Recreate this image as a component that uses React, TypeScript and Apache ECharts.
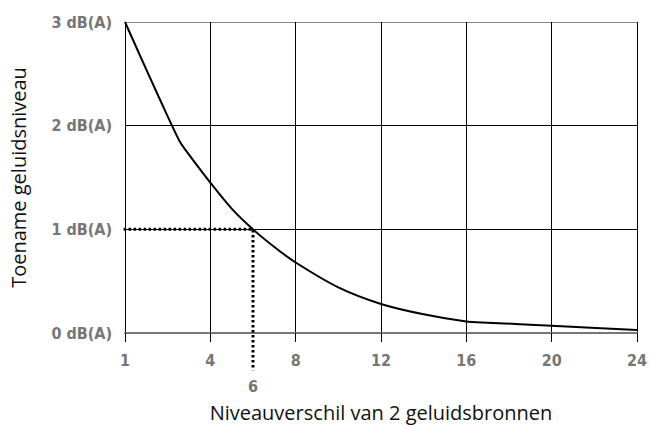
import React, { useEffect, useRef } from "react";
import * as echarts from "echarts";

const levelDiff = [0, 1, 2, 2.56, 3, 4, 5, 6, 7, 8, 10, 12, 14, 16, 17, 20, 24];
const increase = [3.0, 2.54, 2.09, 1.85, 1.72, 1.45, 1.2, 1.0, 0.83, 0.68, 0.44, 0.28, 0.18, 0.11, 0.1, 0.07, 0.03];
const xTicks = [0, 4, 8, 12, 16, 20, 24];
const xTickLabels = ["1", "4", "8", "12", "16", "20", "24"];
const yTickLabels = ["0 dB(A)", "1 dB(A)", "2 dB(A)", "3 dB(A)"];
const refX = 6;
const refY = 1;
const refLineStart = -0.3;
const refLineEnd = -0.36;

export default function App() {
  const ref = useRef<HTMLDivElement>(null);
  useEffect(() => {
    if (!ref.current) return;
    const chart = echarts.init(ref.current, null, { renderer: "svg" });
    const tickFont = {
      color: "#767676",
      fontWeight: "bold" as const,
      fontSize: 16,
      fontFamily: "'Liberation Sans Narrow', 'DejaVu Sans Condensed', sans-serif",
    };
    chart.setOption({
      animation: false,
      backgroundColor: "#fff",
      grid: { left: 125, right: 10, top: 22, bottom: 94, containLabel: false },
      xAxis: {
        type: "value",
        min: 0,
        max: 24,
        interval: 4,
        name: "Niveauverschil van 2 geluidsbronnen",
        nameLocation: "middle",
        nameGap: 68,
        nameTextStyle: { color: "#111", fontSize: 20, fontFamily: "'Open Sans', sans-serif", lineHeight: 22 },
        axisLine: { show: true, lineStyle: { color: "#777", width: 2 } },
        axisTick: { show: true, length: 9, lineStyle: { color: "#000", width: 1 } },
        splitLine: { show: true, lineStyle: { color: "#000", width: 1 } },
        axisLabel: {
          ...tickFont,
          margin: 19,
          formatter: (v: number) => {
            const i = xTicks.indexOf(v);
            return i >= 0 ? xTickLabels[i] : "";
          },
        },
      },
      yAxis: {
        type: "value",
        min: 0,
        max: 3,
        interval: 1,
        name: "Toename geluidsniveau",
        nameLocation: "middle",
        nameRotate: 90,
        nameGap: 97,
        nameTextStyle: { color: "#111", fontSize: 20, fontFamily: "'Open Sans', sans-serif" },
        axisLine: { show: false },
        axisTick: { show: false },
        splitLine: { show: true, lineStyle: { color: ["#777", "#000", "#000", "#888"], width: 1 } },
        axisLabel: {
          ...tickFont,
          margin: 13,
          formatter: (v: number) => yTickLabels[v] ?? "",
        },
      },
      series: [
        {
          type: "line",
          data: levelDiff.map((x, i) => [x, increase[i]]),
          smooth: 0.25,
          showSymbol: false,
          symbol: "none",
          lineStyle: { color: "#000", width: 2 },
          z: 5,
        },
        {
          type: "line",
          clip: false,
          data: [
            [refLineStart, refY],
            [refX, refY],
            [refX, refLineEnd],
          ],
          showSymbol: false,
          symbol: "none",
          lineStyle: { color: "#000", width: 3, type: [2.5, 2.5] },
          z: 4,
        },
      ],
    });
    const p = chart.convertToPixel({ gridIndex: 0 }, [refX, refLineEnd]) as number[];
    chart.setOption({
      graphic: [
        {
          type: "text",
          x: p[0],
          y: p[1] + 8,
          style: {
            text: String(refX),
            fill: tickFont.color,
            font: `bold ${tickFont.fontSize}px ${tickFont.fontFamily}`,
            textAlign: "center",
            textVerticalAlign: "top",
          },
        },
      ],
    });
    return () => chart.dispose();
  }, []);
  return <div ref={ref} style={{ width: 650, height: 428, position: "absolute", left: 0, top: 0 }} />;
}
